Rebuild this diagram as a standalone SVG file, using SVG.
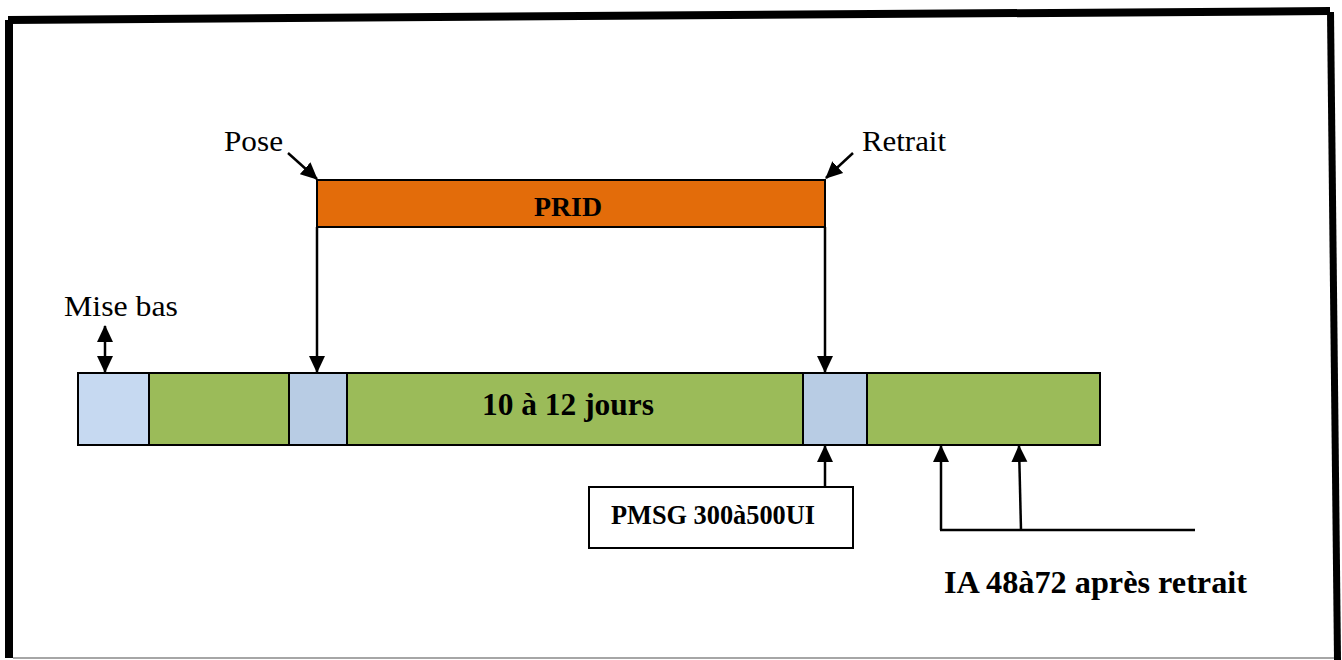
<svg xmlns="http://www.w3.org/2000/svg" width="1342" height="660" viewBox="0 0 1342 660">
  <style>
    .lbl { font-family: "Liberation Serif", "Times New Roman", serif; fill: #000; }
    .bold { font-weight: bold; }
    .seg { stroke: #000; stroke-width: 2; }
    .green { fill: #9BBB59; }
    .blue { fill: #B8CCE4; }
    .pale { fill: #C6D9F1; }
    .conn { stroke: #000; stroke-width: 2.5; fill: none; }
  </style>
  <defs>
    <marker id="head" markerUnits="userSpaceOnUse" markerWidth="18" markerHeight="18" viewBox="0 0 18 18" refX="16" refY="9" orient="auto-start-reverse">
      <path d="M0,1 L17,9 L0,17 Z" fill="#000"/>
    </marker>
  </defs>

  <rect width="1342" height="660" fill="#fff"/>

  <!-- page frame -->
  <g id="frame">
    <polygon points="8,16 1330,7 1330,15 8,24" fill="#000"/>
    <polygon points="5,20 13,20 13,658 5,658" fill="#000"/>
    <polygon points="1327,12 1334,12 1341,660 1334,660" fill="#000"/>
    <line x1="13" y1="658" x2="1334" y2="658" stroke="#888" stroke-width="1.5"/>
  </g>

  <!-- implant bar -->
  <g id="prid">
    <rect x="317" y="180" width="508" height="47" fill="#E36C0A" stroke="#000" stroke-width="2"/>
    <text class="lbl bold" x="534" y="216" font-size="28" textLength="68" lengthAdjust="spacingAndGlyphs">PRID</text>
  </g>

  <g id="pose">
    <text class="lbl" x="224" y="151" font-size="30" textLength="59" lengthAdjust="spacingAndGlyphs">Pose</text>
  </g>
  <g id="retrait">
    <text class="lbl" x="862" y="151" font-size="30" textLength="84" lengthAdjust="spacingAndGlyphs">Retrait</text>
  </g>
  <g id="mise-bas">
    <text class="lbl" x="64" y="316" font-size="30" textLength="114" lengthAdjust="spacingAndGlyphs">Mise bas</text>
  </g>

  <!-- timeline -->
  <g id="timeline">
    <rect class="seg pale" x="78" y="373" width="71" height="72"/>
    <rect class="seg green" x="149" y="373" width="140" height="72"/>
    <rect class="seg blue" x="289" y="373" width="58" height="72"/>
    <rect class="seg green" x="347" y="373" width="456" height="72"/>
    <rect class="seg blue" x="803" y="373" width="64" height="72"/>
    <rect class="seg green" x="867" y="373" width="233" height="72"/>
    <text class="lbl bold" x="482" y="415" font-size="32" textLength="172" lengthAdjust="spacingAndGlyphs">10 à 12 jours</text>
  </g>

  <g id="pmsg">
    <rect x="589" y="487" width="264" height="61" fill="#fff" stroke="#000" stroke-width="2"/>
    <text class="lbl bold" x="611" y="524" font-size="28" textLength="204" lengthAdjust="spacingAndGlyphs">PMSG 300à500UI</text>
  </g>

  <g id="ia">
    <text class="lbl bold" x="944" y="593" font-size="32" textLength="303" lengthAdjust="spacingAndGlyphs">IA 48à72 après retrait</text>
  </g>

  <!-- connectors -->
  <g id="connectors">
    <line class="conn" x1="288" y1="153" x2="317" y2="179" marker-end="url(#head)"/>
    <line class="conn" x1="853" y1="153" x2="826" y2="178" marker-end="url(#head)"/>
    <line class="conn" x1="317" y1="227" x2="317" y2="372" marker-end="url(#head)"/>
    <line class="conn" x1="825" y1="227" x2="825" y2="372" marker-end="url(#head)"/>
    <line class="conn" x1="105" y1="326" x2="105" y2="372" marker-start="url(#head)" marker-end="url(#head)"/>
    <line class="conn" x1="825" y1="487" x2="825" y2="446" marker-end="url(#head)"/>
    <line class="conn" x1="941" y1="530" x2="941" y2="446" marker-end="url(#head)"/>
    <line class="conn" x1="1021" y1="530" x2="1019" y2="446" marker-end="url(#head)"/>
    <line class="conn" x1="940" y1="530" x2="1195" y2="530" stroke-width="2"/>
  </g>
</svg>
